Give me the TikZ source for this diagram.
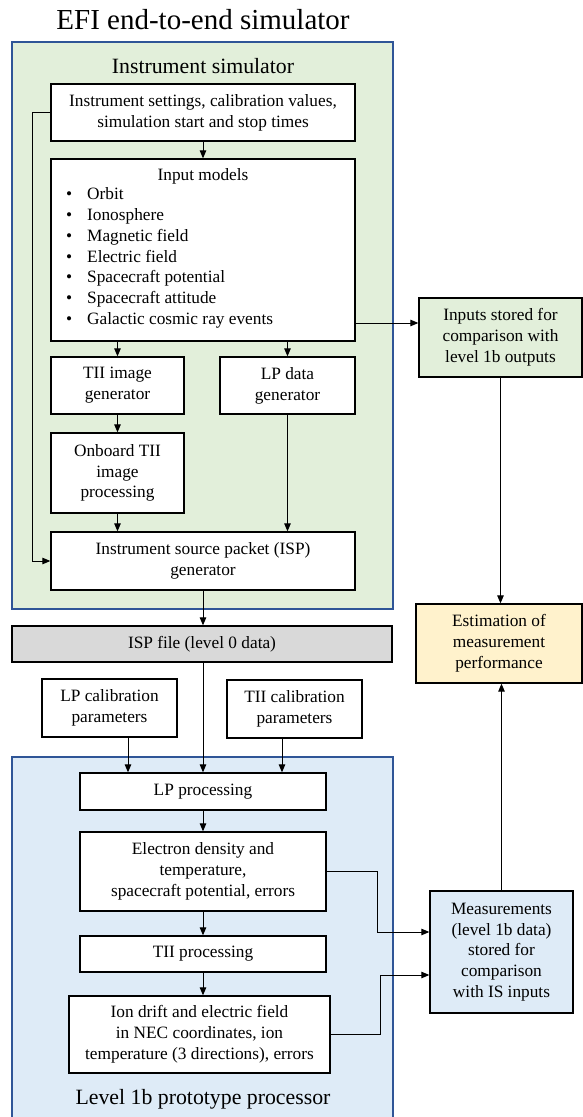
\documentclass[tikz,border=0pt]{standalone}
\usepackage{fontspec}
\setmainfont{Liberation Serif}
\usetikzlibrary{arrows.meta}
\definecolor{gfill}{HTML}{E2EFDA}
\definecolor{bfill}{HTML}{DEEBF7}
\definecolor{yfill}{HTML}{FFF2CC}
\definecolor{grfill}{HTML}{D9D9D9}
\definecolor{cblue}{HTML}{2F5597}
\newcommand\bodyfont{\fontsize{17.3}{20.8}\selectfont}
\newcommand\subfont{\fontsize{21.8}{26}\selectfont}
\newcommand\titlefont{\fontsize{29}{34}\selectfont}
\tikzset{
  box/.style={draw=black, line width=1.3pt, fill=white, align=center, inner sep=0pt, font=\bodyfont},
  container/.style={draw=cblue, line width=2pt},
  arr/.style={line width=1pt, -{Triangle[length=8pt,width=6.5pt]}},
  lbl/.style={inner sep=0pt, align=center}
}
\begin{document}
\begin{tikzpicture}[x=1pt,y=-1pt]
\useasboundingbox (0,0) rectangle (583,1117);
\clip (0,0) rectangle (583,1117);
\fill[white] (0,0) rectangle (583,1117);
% containers
\draw[container, fill=gfill] (12,42) rectangle (393,609);
\draw[container, fill=bfill] (12,757) rectangle (393,1140);
% titles
\node[lbl, font=\titlefont] (title) at (203,20) {EFI end-to-end simulator};
\node[lbl, font=\subfont] (istitle) at (203,66) {Instrument simulator};
\node[lbl, font=\subfont] (l1title) at (203,1099) {Level 1b prototype processor};
% instrument simulator boxes
\node[box, minimum width=304pt, minimum height=57pt] (set) at (203,112.5) {Instrument settings, calibration values,\\simulation start and stop times};
\node[box, minimum width=304pt, minimum height=182pt] (inp) at (203,250) {};
\node[lbl, font=\bodyfont] (inptitle) at (203,176) {Input models};
\node[lbl, font=\bodyfont, anchor=west, align=left] (inplist) at (66,258) {%
\makebox[21pt][l]{\textbullet}Orbit\\
\makebox[21pt][l]{\textbullet}Ionosphere\\
\makebox[21pt][l]{\textbullet}Magnetic field\\
\makebox[21pt][l]{\textbullet}Electric field\\
\makebox[21pt][l]{\textbullet}Spacecraft potential\\
\makebox[21pt][l]{\textbullet}Spacecraft attitude\\
\makebox[21pt][l]{\textbullet}Galactic cosmic ray events};
\node[box, minimum width=133pt, minimum height=57pt] (tiig) at (117.5,385.5) {TII image\\generator};
\node[box, minimum width=135pt, minimum height=57pt] (lpg) at (287.5,385.5) {LP data\\generator};
\node[box, minimum width=133pt, minimum height=80pt] (onb) at (117.5,473) {Onboard TII\\image\\processing};
\node[box, minimum width=304pt, minimum height=58pt] (isp) at (203,561) {Instrument source packet (ISP)\\generator};
% right column
\node[box, fill=gfill, minimum width=163pt, minimum height=79pt] (stored) at (500.5,337.5) {Inputs stored for\\comparison with\\level 1b outputs};
\node[box, fill=yfill, minimum width=166pt, minimum height=79pt] (est) at (499,643.5) {Estimation of\\measurement\\performance};
\node[box, fill=bfill, minimum width=143pt, minimum height=122pt] (meas) at (501.5,952) {Measurements\\(level 1b data)\\stored for\\comparison\\with IS inputs};
% middle
\node[box, fill=grfill, minimum width=380pt, minimum height=36pt] (file) at (202,644) {ISP file (level 0 data)};
\node[box, minimum width=135pt, minimum height=58pt] (lpcal) at (109.5,708) {LP calibration\\parameters};
\node[box, minimum width=135pt, minimum height=58pt] (tiical) at (294.5,709) {TII calibration\\parameters};
% level 1b boxes
\node[box, minimum width=246pt, minimum height=37pt] (lpp) at (203,791.5) {LP processing};
\node[box, minimum width=246pt, minimum height=79pt] (elec) at (203,871.5) {Electron density and\\temperature,\\spacecraft potential, errors};
\node[box, minimum width=246pt, minimum height=36pt] (tiip) at (203,954) {TII processing};
\node[box, minimum width=261pt, minimum height=77pt] (ion) at (199.5,1034.5) {Ion drift and electric field\\in NEC coordinates, ion\\temperature (3 directions), errors};
% connectors
\draw[arr] (set) -- (inp);
\draw[arr] ([yshift=-73pt]inp.east) -- ([yshift=14.5pt]stored.west);
\draw[arr] (stored.south) -- (stored.south |- est.north);
\draw[arr] (tiig.north |- inp.south) -- (tiig.north);
\draw[arr] (lpg.north |- inp.south) -- (lpg.north);
\draw[arr] (tiig) -- (onb);
\draw[arr] (onb.south) -- (onb.south |- isp.north);
\draw[arr] (lpg.south) -- (lpg.south |- isp.north);
\draw[arr] (set.west) -- ++(-18,0) |- (isp.west);
\draw[arr] (isp.south) -- (isp.south |- file.north);
\draw[arr] (lpp.north |- file.south) -- (lpp.north);
\draw[arr] ([xshift=18.5pt]lpcal.south) -- ([xshift=18.5pt]lpcal.south |- lpp.north);
\draw[arr] ([xshift=-12.5pt]tiical.south) -- ([xshift=-12.5pt]tiical.south |- lpp.north);
\draw[arr] (lpp) -- (elec);
\draw[arr] (elec) -- (tiip);
\draw[arr] (tiip.south) -- (tiip.south |- ion.north);
\draw[arr] (elec.east) -- ++(51,0) |- ([yshift=20pt]meas.west);
\draw[arr] (ion.east) -- ++(50,0) |- ([yshift=-23pt]meas.west);
\draw[arr] (meas.north) -- (meas.north |- est.south);
\end{tikzpicture}
\end{document}
